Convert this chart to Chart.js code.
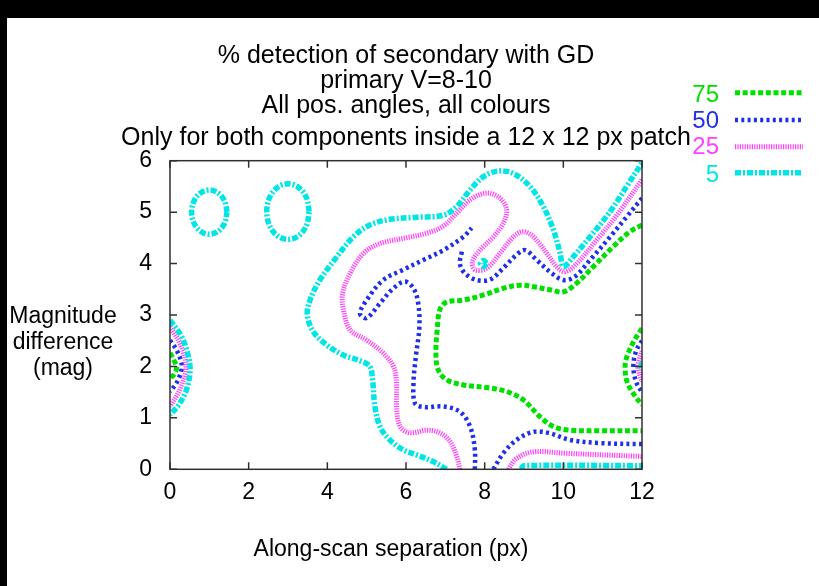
<!DOCTYPE html>
<html><head><meta charset="utf-8">
<script src="https://cdn.jsdelivr.net/npm/chart.js@4.4.1/dist/chart.umd.min.js"></script>
<style>html,body{margin:0;padding:0;background:#fff;}#wrap{width:819px;height:586px;position:relative;}</style>
</head><body><div id="wrap"><canvas id="c" width="819" height="586"></canvas></div>
<script>
// ---------- text ----------
const titleLines = ['% detection of secondary with GD', 'primary V=8-10', 'All pos. angles, all colours', 'Only for both components inside a 12 x 12 px patch'];
const yLabelLines = ['Magnitude', 'difference', '(mag)'];
const xLabel = 'Along-scan separation (px)';
const levels = ['75', '50', '25', '5'];
const xTickValues = [0, 2, 4, 6, 8, 10, 12];
const yTickValues = [0, 1, 2, 3, 4, 5, 6];

// ---------- contour data (x = separation px, y = magnitude difference) ----------
const green75Main = [[12.0,4.75],[11.69,4.62],[11.27,4.33],[10.76,3.94],[10.34,3.62],[10.0,3.45],[9.66,3.49],[9.24,3.55],[8.9,3.58],[8.47,3.52],[7.97,3.39],[7.46,3.29],[7.03,3.25],[6.86,3.10],[6.80,2.77],[6.76,2.26],[6.82,1.93],[7.03,1.74],[7.46,1.64],[8.05,1.59],[8.56,1.51],[8.98,1.35],[9.41,1.02],[9.75,0.83],[10.17,0.76],[10.93,0.75],[12.0,0.75]];
const green75Left = [[0,2.26],[0.1,2.12],[0.17,1.98],[0.1,1.84],[0,1.77]];
const green75Right = [[12,2.74],[11.8,2.5],[11.62,2.2],[11.57,2.0],[11.62,1.7],[11.8,1.45],[12,1.25]];

const blue50MainA = [[7.75,0],[7.75,0.38],[7.63,0.83],[7.37,1.12],[6.95,1.22],[6.44,1.21],[6.23,1.28],[6.19,1.67],[6.25,2.19],[6.34,2.77],[6.31,3.23],[6.19,3.52],[5.97,3.65],[5.68,3.52],[5.34,3.23],[5.0,2.94],[4.83,3.03],[5.0,3.29],[5.42,3.68],[5.93,3.88],[6.44,4.07],[6.95,4.26],[7.46,4.52],[7.67,4.69]];
const blue50MainB = [[7.42,4.23],[7.37,4.0],[7.5,3.81],[7.8,3.68],[8.14,3.69],[8.47,3.91],[8.81,4.17],[9.03,4.26],[9.32,4.07],[9.66,3.84],[10.0,3.68],[10.3,3.75],[10.68,4.07],[11.19,4.52],[11.61,4.91],[12.0,5.27]];
const blue50Bottom = [[8.22,0],[8.47,0.31],[8.81,0.57],[9.24,0.73],[9.66,0.70],[10.17,0.57],[10.93,0.51],[12,0.49]];
const blue50Left = [[0,2.51],[0.18,2.3],[0.3,2.0],[0.18,1.7],[0,1.51]];
const blue50Right = [[12,2.5],[11.85,2.3],[11.78,2.0],[11.85,1.7],[12,1.5]];

const mag25Main = [[7.37,0],[7.29,0.25],[7.12,0.54],[6.86,0.71],[6.53,0.76],[6.10,0.71],[5.85,0.83],[5.76,1.22],[5.76,1.67],[5.68,2.0],[5.42,2.26],[5.0,2.51],[4.58,2.71],[4.41,3.10],[4.39,3.42],[4.58,3.81],[4.92,4.2],[5.34,4.39],[5.93,4.49],[6.53,4.59],[6.95,4.73],[7.29,4.98],[7.63,5.24],[8.05,5.37],[8.39,5.27],[8.56,5.04],[8.47,4.78],[8.22,4.52],[7.88,4.26],[7.69,4.04],[7.75,3.88],[8.05,3.91],[8.39,4.20],[8.73,4.52],[8.98,4.62],[9.24,4.52],[9.58,4.20],[9.83,3.94],[10.04,3.84],[10.34,4.0],[10.85,4.46],[11.36,4.94],[12.0,5.63]];
const mag25Bottom = [[8.6,0],[8.81,0.21],[9.24,0.34],[10.08,0.31],[12,0.25]];
const mag25Left = [[0,2.77],[0.25,2.45],[0.41,2.0],[0.25,1.55],[0,1.22]];
const mag25Right = [[12,2.3],[11.9,2.0],[12,1.7]];

const cyan5Main = [[7.03,0.0],[6.69,0.15],[6.27,0.28],[5.93,0.38],[5.59,0.57],[5.34,0.83],[5.21,1.22],[5.15,1.74],[5.08,2.0],[4.83,2.11],[4.41,2.22],[3.98,2.42],[3.64,2.68],[3.49,3.0],[3.56,3.29],[3.81,3.68],[4.24,4.13],[4.66,4.52],[5.08,4.75],[5.59,4.86],[6.27,4.90],[6.95,4.94],[7.29,5.11],[7.63,5.43],[7.97,5.69],[8.35,5.80],[8.73,5.75],[9.15,5.50],[9.49,5.11],[9.75,4.65],[9.92,4.2],[10.0,3.94],[10.25,4.13],[10.68,4.52],[11.19,5.01],[11.61,5.50],[12.0,5.96]];
const cyan5Bottom = [[8.92,0.0],[9.0,0.07],[12,0.07]];
const cyan5Left = [[0,2.9],[0.28,2.6],[0.45,2.25],[0.51,1.93],[0.42,1.55],[0.22,1.25],[0,1.06]];
const cyan5Right = [[12,2.08],[11.97,2.0],[12,1.92]];
const cyan5Blob = [[8.05,4.0],[7.97,4.06],[7.89,4.0],[7.97,3.94],[8.05,4.0]];
const cyan5Ring1 = [[1.45,5.0],[1.39,5.215],[1.225,5.372],[1.0,5.43],[0.775,5.372],[0.61,5.215],[0.55,5.0],[0.61,4.785],[0.775,4.628],[1.0,4.57],[1.225,4.628],[1.39,4.785],[1.45,5.0]];
const cyan5Ring2 = [[3.54,5.01],[3.47,5.28],[3.27,5.48],[3.0,5.55],[2.73,5.48],[2.53,5.28],[2.46,5.01],[2.53,4.74],[2.73,4.54],[3.0,4.47],[3.27,4.54],[3.47,4.74],[3.54,5.01]];

// ---------- styles ----------
const FONT = 'Liberation Sans, Arial, Helvetica, sans-serif';
const styles = {
  '75': {color:'#00e000', width:5, dash:[5,2.7]},
  '50': {color:'#2030e8', width:4.5, dash:[3,3.3]},
  '25': {color:'#ff40ff', width:5, dash:[1.2,1.2]},
  '5':  {color:'#00e6e6', width:5.5, dash:[6,2,2,2]}
};
const contours = [
  ['5', cyan5Main], ['5', cyan5Bottom], ['5', cyan5Left], ['5', cyan5Right], ['5', cyan5Blob], ['5', cyan5Ring1], ['5', cyan5Ring2],
  ['25', mag25Main], ['25', mag25Bottom], ['25', mag25Left], ['25', mag25Right],
  ['50', blue50MainA], ['50', blue50MainB], ['50', blue50Bottom], ['50', blue50Left], ['50', blue50Right],
  ['75', green75Main], ['75', green75Left], ['75', green75Right]
];
const datasets = contours.map(([lv, arr]) => ({
  label: lv,
  data: arr.map(p => ({x: p[0], y: p[1]})),
  showLine: true, pointRadius: 0, pointHoverRadius: 0, fill: false,
  borderColor: styles[lv].color, borderWidth: styles[lv].width, borderDash: styles[lv].dash,
  borderCapStyle: 'butt', borderJoinStyle: 'round', tension: 0.35
}));

// ---------- plugins ----------
const bgPlugin = {
  id: 'bg',
  beforeDraw(chart) {
    const ctx = chart.ctx;
    ctx.save();
    ctx.fillStyle = '#fff'; ctx.fillRect(0, 0, chart.width, chart.height);
    ctx.fillStyle = '#000'; ctx.fillRect(0, 0, chart.width, 18); ctx.fillRect(0, 0, 7, chart.height);
    ctx.restore();
  }
};
const framePlugin = {
  id: 'frame',
  afterDatasetsDraw(chart) {
    const {ctx, chartArea: a, scales: {x, y}} = chart;
    ctx.save();
    ctx.strokeStyle = '#303030'; ctx.lineWidth = 1.5;
    ctx.strokeRect(a.left, a.top, a.right - a.left, a.bottom - a.top);
    const L = 7;
    ctx.beginPath();
    x.ticks.forEach(t => { const px = x.getPixelForValue(t.value);
      ctx.moveTo(px, a.bottom); ctx.lineTo(px, a.bottom - L); ctx.moveTo(px, a.top); ctx.lineTo(px, a.top + L); });
    y.ticks.forEach(t => { const py = y.getPixelForValue(t.value);
      ctx.moveTo(a.left, py); ctx.lineTo(a.left + L, py); ctx.moveTo(a.right, py); ctx.lineTo(a.right - L, py); });
    ctx.stroke();
    ctx.restore();
  }
};
const textPlugin = {
  id: 'texts',
  afterDraw(chart) {
    const {ctx, chartArea: a} = chart;
    ctx.save();
    ctx.fillStyle = '#000';
    ctx.textAlign = 'center'; ctx.textBaseline = 'alphabetic';
    ctx.font = '25px ' + FONT;
    const cx = (a.left + a.right) / 2;
    const titleBase = [63, 88, 113, 145];
    titleLines.forEach((t, i) => ctx.fillText(t, cx, titleBase[i]));
    ctx.font = '23px ' + FONT;
    const yBase = [322.7, 348.5, 375];
    yLabelLines.forEach((t, i) => ctx.fillText(t, 63, yBase[i]));
    ctx.fillText(xLabel, 391, 556);
    // legend
    ctx.font = '24px ' + FONT;
    ctx.textAlign = 'right';
    const legText = [101.5, 127.5, 153.5, 181.5];
    const legLine = [92.7, 120, 146.7, 172.7];
    levels.forEach((lv, i) => {
      const s = styles[lv];
      ctx.fillStyle = s.color;
      ctx.fillText(lv, 719, legText[i]);
      ctx.beginPath();
      ctx.strokeStyle = s.color; ctx.lineWidth = s.width; ctx.setLineDash(s.dash); ctx.lineCap = 'butt';
      ctx.moveTo(735, legLine[i]); ctx.lineTo(803, legLine[i]); ctx.stroke();
      ctx.setLineDash([]);
    });
    ctx.restore();
  }
};

new Chart(document.getElementById('c'), {
  type: 'scatter',
  data: {datasets},
  options: {
    responsive: false, animation: false, devicePixelRatio: 1,
    layout: {padding: {left: 0, right: 177, top: 160.7, bottom: 0}},
    plugins: {legend: {display: false}, tooltip: {enabled: false}, title: {display: false}},
    scales: {
      x: {type: 'linear', min: 0, max: 12,
        afterBuildTicks: s => { s.ticks = xTickValues.map(v => ({value: v})); },
        afterFit: s => { s.height = 116.7; },
        ticks: {font: {family: FONT, size: 23}, color: '#000', padding: 10, maxRotation: 0},
        grid: {display: false, drawTicks: false}, border: {display: false}},
      y: {type: 'linear', min: 0, max: 6,
        afterBuildTicks: s => { s.ticks = yTickValues.map(v => ({value: v})); },
        afterFit: s => { s.width = 170; },
        ticks: {font: {family: FONT, size: 23}, color: '#000', padding: 18},
        grid: {display: false, drawTicks: false}, border: {display: false}}
    }
  },
  plugins: [bgPlugin, framePlugin, textPlugin]
});
</script></body></html>
